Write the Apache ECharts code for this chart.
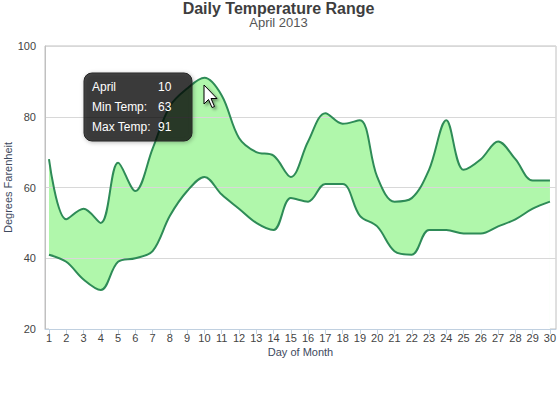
<!DOCTYPE html>
<html>
<head>
<meta charset="utf-8">
<script src="https://cdn.jsdelivr.net/npm/echarts@6/dist/echarts.min.js"></script>
<style>
html,body{margin:0;padding:0;background:#fff;}
#chart{width:557px;height:405px;}
</style>
</head>
<body>
<div id="chart"></div>
<script>
var days = [1,2,3,4,5,6,7,8,9,10,11,12,13,14,15,16,17,18,19,20,21,22,23,24,25,26,27,28,29,30];
var minTemp = [41,39,34,31,39,40,42,52,59,63,58,54,50,48,57,56,61,61,52,49,42,41,48,48,47,47,49,51,54,56];
var maxTemp = [68,51,54,50,67,59,71,83,88,91,86,74,70,69,63,73,81,78,79,63,56,57,65,79,65,68,73,68,62,62];
var yTicks = [20,40,60,80,100];
var monthName = 'April';
var tipIndex = 9;
var yAxisTitle = 'Degrees Farenheit';

var FONT = '"Liberation Sans", Arial, sans-serif';
var lineColor = '#2E8B57';
var fillColor = '#B0F7AB';
var SMOOTH = 0.35;

var lowerData = days.map(function(d,i){ return [d, minTemp[i]]; });
var upperData = days.map(function(d,i){ return [d, maxTemp[i]]; });

var chart = echarts.init(document.getElementById('chart'), null, {renderer:'svg'});

var tipX = 84, tipY = 73;
var cursorPts = [[0,0],[0,19],[4.5,14.5],[8,22.5],[10.5,21.5],[7,13.5],[13,13.5]];

function tipText(x, y, t) {
  return {type: 'text', x: x, y: y, z: 101, style: {text: t, fill: '#fff', font: '12px ' + FONT, verticalAlign: 'middle'}};
}

var option = {
  animation: false,
  backgroundColor: '#fff',
  title: [{
    text: 'Daily Temperature Range',
    left: 'center', top: 0, padding: 0,
    textStyle: {fontFamily: FONT, fontSize: 16, fontWeight: 'bold', color: '#3E3E3E'}
  },{
    text: 'April 2013',
    left: 'center', top: 16, padding: 0,
    textStyle: {fontFamily: FONT, fontSize: 13, fontWeight: 'normal', color: '#555'}
  }],
  grid: {left: 45, right: 1, top: 46, bottom: 76, containLabel: false, outerBoundsMode: 'none',
         show: true, borderColor: '#C0C0C0', borderWidth: 1, backgroundColor: 'transparent'},
  xAxis: {
    type: 'value', min: 0.77, max: 30.35, z: 5,
    name: 'Day of Month', nameLocation: 'middle', nameGap: 17, nameMoveOverlap: false,
    nameTextStyle: {fontFamily: FONT, fontSize: 11, color: '#3E4A5E'},
    axisLine: {show: true, lineStyle: {color: '#C0D0E0', width: 1}},
    axisTick: {show: true, customValues: days, length: 5, lineStyle: {color: '#C0D0E0'}},
    axisLabel: {customValues: days, fontFamily: FONT, fontSize: 11, color: '#444', margin: 3},
    splitLine: {show: false}
  },
  yAxis: {
    type: 'value', min: 20, max: 100, interval: 20, z: 5,
    axisLine: {show: true, lineStyle: {color: '#C0C0C0', width: 1}},
    axisTick: {show: false},
    axisLabel: {fontFamily: FONT, fontSize: 11, color: '#444', margin: 9},
    splitLine: {show: true, lineStyle: {color: '#D8D8D8', width: 1}}
  },
  series: [{
    name: 'Max fill', type: 'line', smooth: SMOOTH, data: upperData,
    showSymbol: false, symbol: 'none', lineStyle: {width: 0, opacity: 0},
    areaStyle: {color: fillColor, opacity: 1, origin: 'start'}, z: 1, silent: true
  },{
    name: 'Min cover', type: 'line', smooth: SMOOTH, data: lowerData,
    showSymbol: false, symbol: 'none', lineStyle: {width: 0, opacity: 0},
    areaStyle: {color: '#ffffff', opacity: 1, origin: 'start'}, z: 2, silent: true
  },{
    name: 'Max Temp', type: 'line', smooth: SMOOTH, data: upperData,
    showSymbol: false, symbol: 'none', lineStyle: {color: lineColor, width: 2}, z: 8
  },{
    name: 'Min Temp', type: 'line', smooth: SMOOTH, data: lowerData,
    showSymbol: false, symbol: 'none', lineStyle: {color: lineColor, width: 2}, z: 8
  }],
  graphic: [{
    type: 'text', z: 50, x: 8, y: 187.5, rotation: Math.PI / 2,
    style: {text: yAxisTitle, fill: '#3E4A5E', font: '11px ' + FONT, align: 'center', verticalAlign: 'middle'}
  },{
    type: 'rect', z: 100, x: tipX, y: tipY,
    shape: {x: 0, y: 0, width: 108, height: 68, r: 8},
    style: {fill: 'rgba(0,0,0,0.7)', stroke: '#222', lineWidth: 1, shadowBlur: 4, shadowColor: 'rgba(0,0,0,0.35)', shadowOffsetX: 1, shadowOffsetY: 1}
  },
  tipText(tipX + 8, tipY + 14, monthName),
  tipText(tipX + 74, tipY + 14, String(days[tipIndex])),
  tipText(tipX + 8, tipY + 34, 'Min Temp:'),
  tipText(tipX + 74, tipY + 34, String(minTemp[tipIndex])),
  tipText(tipX + 8, tipY + 54, 'Max Temp:'),
  tipText(tipX + 74, tipY + 54, String(maxTemp[tipIndex])),
  {
    type: 'polygon', z: 102, x: 204, y: 85,
    shape: {points: cursorPts},
    style: {fill: '#fff', stroke: '#000', lineWidth: 1, shadowBlur: 3, shadowColor: 'rgba(0,0,0,0.4)', shadowOffsetX: 2, shadowOffsetY: 2}
  }]
};
chart.setOption(option);
</script>
</body>
</html>
